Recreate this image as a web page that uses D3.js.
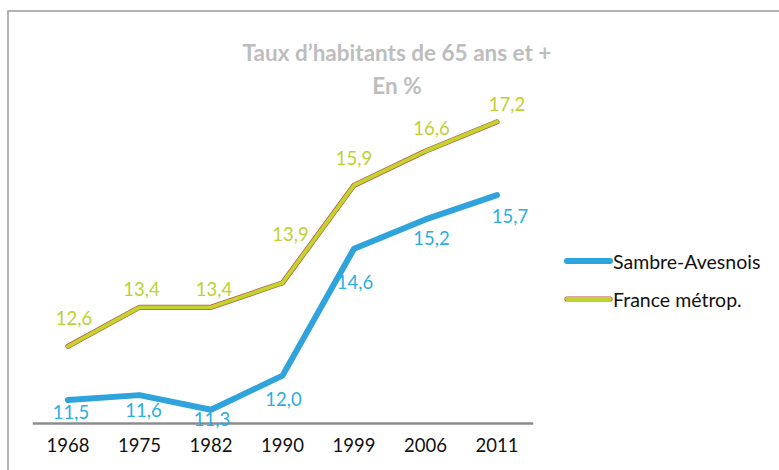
<!DOCTYPE html>
<html><head><meta charset="utf-8">
<script src="https://cdn.jsdelivr.net/npm/d3@7"></script>
<style>html,body{margin:0;padding:0;background:#fff;} svg{display:block;}</style>
</head><body>
<svg id="chart" width="779" height="470"></svg>
<script>
const years = ["1968","1975","1982","1990","1999","2006","2011"];
const sambre = [11.5, 11.6, 11.3, 12.0, 14.6, 15.2, 15.7];
const france = [12.6, 13.4, 13.4, 13.9, 15.9, 16.6, 17.2];
const seriesNames = ["Sambre-Avesnois", "France métrop."];
const titleLines = ["Taux d\u2019habitants de 65 ans et +", "En %"];

// label placement (layout, not data)
const sambreLabelOff = [[3,12],[4,15],[1,9],[1,23],[1,33],[6,19],[13,21]];
const franceLabelOff = [[6,-28],[2,-18],[3,-18],[8,-49],[0,-27],[6,-23],[10,-18]];

const svg = d3.select("#chart");
const font = "Lato, 'Open Sans', sans-serif";
const blue = "#2ea3dc", blueText = "#2aaee4";
const green = "#c0d62c", greenText = "#bdd232", outline = "#c0504d";

// frame
svg.append("rect").attr("x", 8).attr("y", 11).attr("width", 790).attr("height", 480)
  .attr("fill", "none").attr("stroke", "#9a9a9a").attr("stroke-width", 1.5);

const x = d3.scaleBand().domain(years).range([32.25, 532.75]);
const y = d3.scaleLinear().domain([11, 18]).range([424.4, 82.8]);
const cx = d => x(d) + x.bandwidth() / 2;

// axis
const xAxis = d3.axisBottom(x).tickSize(0).tickPadding(16);
const gx = svg.append("g").attr("transform", "translate(0,423)").call(xAxis);
gx.select(".domain").attr("stroke", "#8c8c8c").attr("stroke-width", 2.5);
gx.selectAll("text").attr("font-family", font).attr("font-size", 18.5).attr("fill", "#111");

const line = d3.line().x((d, i) => cx(years[i])).y(d => y(d));

// France line with outline
svg.append("path").datum(france).attr("d", line).attr("fill", "none")
  .attr("stroke", outline).attr("stroke-width", 5.2).attr("stroke-linecap", "round").attr("stroke-linejoin", "round");
svg.append("path").datum(france).attr("d", line).attr("fill", "none")
  .attr("stroke", green).attr("stroke-width", 3.8).attr("stroke-linecap", "round").attr("stroke-linejoin", "round");
// Sambre line
svg.append("path").datum(sambre).attr("d", line).attr("fill", "none")
  .attr("stroke", blue).attr("stroke-width", 6).attr("stroke-linecap", "round").attr("stroke-linejoin", "round");

const fmt = v => v.toFixed(1).replace(".", ",");
function labels(data, off, color) {
  svg.append("g").selectAll("text").data(data).join("text")
    .attr("x", (d, i) => cx(years[i]) + off[i][0])
    .attr("y", (d, i) => y(d) + off[i][1])
    .attr("text-anchor", "middle").attr("dominant-baseline", "central")
    .attr("font-family", font).attr("font-size", 18.5).attr("fill", color)
    .text(fmt);
}
labels(france, franceLabelOff, greenText);
labels(sambre, sambreLabelOff, blueText);

// title
svg.append("g").selectAll("text").data(titleLines).join("text")
  .attr("x", 397).attr("y", (d, i) => 52 + i * 33)
  .attr("text-anchor", "middle").attr("dominant-baseline", "central")
  .attr("font-family", font).attr("font-weight", "bold").attr("font-size", 22.5)
  .attr("fill", "#bdbdbd").text(d => d);

// legend
const leg = svg.append("g");
const legY = [261, 299];
seriesNames.forEach((n, i) => {
  const g = leg.append("g").attr("transform", `translate(0,${legY[i]})`);
  if (i === 0) {
    g.append("line").attr("x1", 567).attr("x2", 610).attr("stroke", blue).attr("stroke-width", 6).attr("stroke-linecap", "round");
  } else {
    g.append("line").attr("x1", 567).attr("x2", 610).attr("stroke", outline).attr("stroke-width", 5.2).attr("stroke-linecap", "round");
    g.append("line").attr("x1", 567).attr("x2", 610).attr("stroke", green).attr("stroke-width", 3.8).attr("stroke-linecap", "round");
  }
  g.append("text").attr("x", 613).attr("y", 0).attr("dominant-baseline", "central")
    .attr("font-family", font).attr("font-size", 19.5).attr("fill", "#111").text(n);
});
</script>
</body></html>
